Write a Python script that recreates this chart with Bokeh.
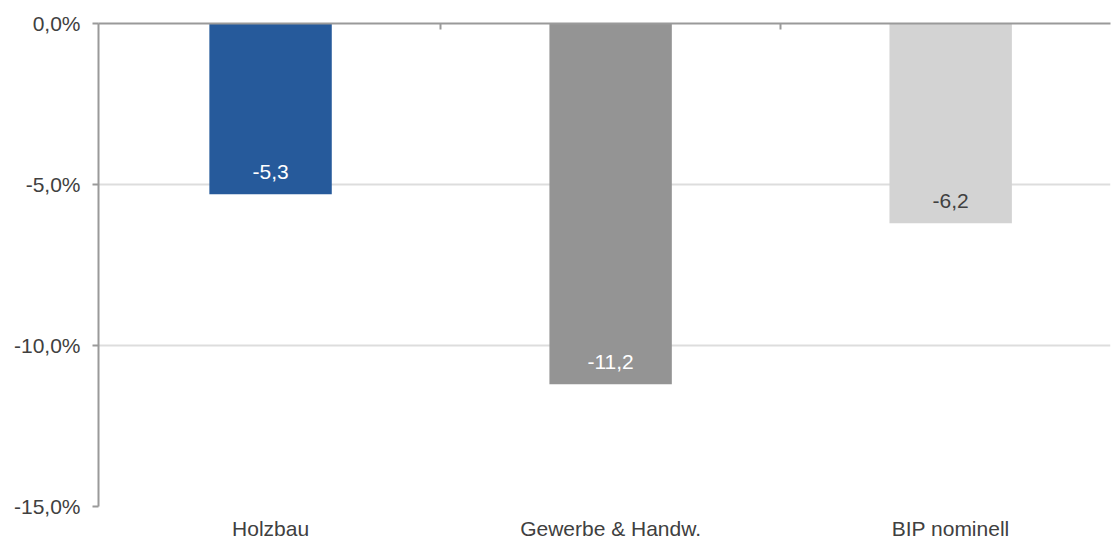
from bokeh.plotting import figure
from bokeh.models import Range1d, FixedTicker, LinearAxis, ColumnDataSource
from bokeh.core.properties import value
from bokeh.embed import file_html
from bokeh.resources import INLINE

categories = ["Holzbau", "Gewerbe & Handw.", "BIP nominell"]
values = [-5.3, -11.2, -6.2]
bar_colors = ["#265A9B", "#949494", "#D3D3D3"]
label_colors = ["#FFFFFF", "#FFFFFF", "#404040"]
y_ticks = [0, -5, -10, -15]
y_tick_labels = ["0,0%", "-5,0%", "-10,0%", "-15,0%"]

FONT = "Liberation Sans"
AXIS_COLOR = "#9A9A9A"
TEXT_COLOR = "#404040"

xs = list(range(len(categories)))
labels = [f"{v:.1f}".replace(".", ",") for v in values]
src = ColumnDataSource(dict(x=xs, top=values, color=bar_colors,
                            text=labels, tcolor=label_colors))

p = figure(width=1113, height=543, output_backend="svg", toolbar_location=None,
           x_range=Range1d(-0.506, 2.47), y_range=Range1d(-15, 0),
           min_border_left=98, min_border_right=3, min_border_top=23,
           min_border_bottom=37, x_axis_location=None, y_axis_location="left")
p.outline_line_color = None
p.background_fill_color = "white"

for g in p.xgrid:
    g.visible = False
p.ygrid.ticker = FixedTicker(ticks=y_ticks)
p.ygrid.grid_line_color = "#DDDDDD"
p.ygrid.grid_line_width = 2

p.vbar(x="x", top="top", bottom=0, width=0.36, fill_color="color",
       line_color=None, source=src)

p.text(x="x", y="top", text="text", text_color="tcolor", source=src,
       text_align="center", text_baseline="middle", y_offset=-22,
       text_font=value(FONT), text_font_size="21px")

ya = p.yaxis[0]
ya.ticker = FixedTicker(ticks=y_ticks)
ya.major_label_overrides = dict(zip(y_ticks, y_tick_labels))
ya.axis_line_color = AXIS_COLOR
ya.axis_line_width = 2
ya.major_tick_line_color = AXIS_COLOR
ya.major_tick_line_width = 2
ya.major_tick_out = 6
ya.major_tick_in = 0
ya.minor_tick_line_color = None
ya.major_label_standoff = 12
ya.major_label_text_font = FONT
ya.major_label_text_font_size = "21px"
ya.major_label_text_color = TEXT_COLOR

bounds = [x + 0.5 for x in xs[:-1]]
top_axis = LinearAxis(ticker=FixedTicker(ticks=bounds))
top_axis.major_label_overrides = {b: "" for b in bounds}
top_axis.axis_line_color = AXIS_COLOR
top_axis.axis_line_width = 2
top_axis.major_tick_line_color = AXIS_COLOR
top_axis.major_tick_line_width = 2
top_axis.major_tick_in = 6
top_axis.major_tick_out = 0
top_axis.minor_tick_line_color = None
top_axis.major_label_standoff = 0
p.add_layout(top_axis, "above")

bottom_axis = LinearAxis(ticker=FixedTicker(ticks=xs))
bottom_axis.major_label_overrides = dict(zip(xs, categories))
bottom_axis.axis_line_color = None
bottom_axis.major_tick_line_color = None
bottom_axis.minor_tick_line_color = None
bottom_axis.major_label_standoff = 4
bottom_axis.major_label_text_font = FONT
bottom_axis.major_label_text_font_size = "21px"
bottom_axis.major_label_text_color = TEXT_COLOR
p.add_layout(bottom_axis, "below")

open("out.html", "w").write(file_html(p, INLINE))
